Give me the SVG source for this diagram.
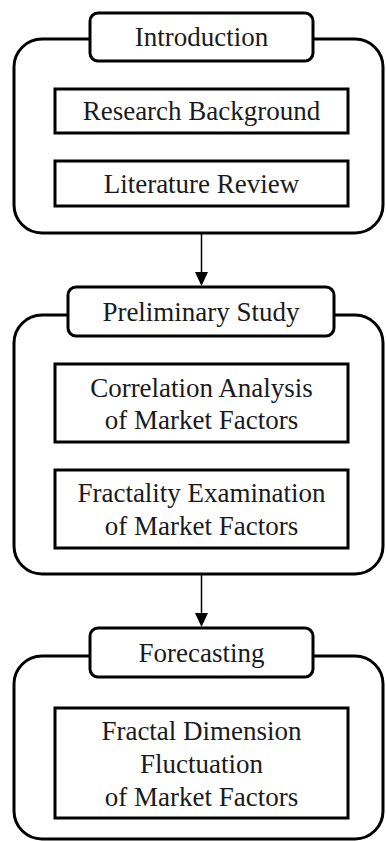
<svg xmlns="http://www.w3.org/2000/svg" width="386" height="841" viewBox="0 0 386 841">
  <defs>
    <style>
      .container { fill: none; stroke: #000; stroke-width: 3; }
      .tab { fill: #fff; stroke: #000; stroke-width: 3; }
      .box { fill: #fff; stroke: #000; stroke-width: 3; }
      .conn { stroke: #000; stroke-width: 1.5; fill: none; }
      .head { fill: #000; stroke: none; }
      text { font-family: "Liberation Serif", "Times New Roman", serif; font-size: 27px; fill: #1a1a1a; text-anchor: middle; }
    </style>
  </defs>
  <rect width="386" height="841" fill="#fff"/>

  <g id="introduction">
    <rect class="container" x="14" y="39" width="369" height="194" rx="28"/>
    <rect class="tab" x="90" y="13" width="223" height="48" rx="8"/>
    <text x="201.5" y="46">Introduction</text>
  </g>
  <g id="research-background">
    <rect class="box" x="55" y="89" width="293" height="44"/>
    <text x="201.5" y="120">Research Background</text>
  </g>
  <g id="literature-review">
    <rect class="box" x="55" y="161" width="293" height="45"/>
    <text x="201.5" y="193">Literature Review</text>
  </g>

  <g id="preliminary-study">
    <rect class="container" x="14" y="315" width="369" height="259" rx="28"/>
    <rect class="tab" x="68" y="287" width="266" height="49" rx="8"/>
    <text x="201" y="321">Preliminary Study</text>
  </g>
  <g id="correlation-analysis">
    <rect class="box" x="55" y="364" width="293" height="78"/>
    <text x="201.5" y="397">Correlation Analysis</text>
    <text x="201.5" y="429">of Market Factors</text>
  </g>
  <g id="fractality-examination">
    <rect class="box" x="55" y="470" width="293" height="78"/>
    <text x="201.5" y="502">Fractality Examination</text>
    <text x="201.5" y="535">of Market Factors</text>
  </g>

  <g id="forecasting">
    <rect class="container" x="14" y="656" width="369" height="183" rx="28"/>
    <rect class="tab" x="90" y="628" width="223" height="49" rx="8"/>
    <text x="201.5" y="662">Forecasting</text>
  </g>
  <g id="fractal-dimension-fluctuation">
    <rect class="box" x="55" y="708" width="293" height="110"/>
    <text x="201.5" y="740">Fractal Dimension</text>
    <text x="201.5" y="773">Fluctuation</text>
    <text x="201.5" y="806">of Market Factors</text>
  </g>

  <g id="connectors">
    <line class="conn" x1="201.5" y1="234" x2="201.5" y2="274"/>
    <polygon class="head" points="195,272 208,272 201.5,286"/>
    <line class="conn" x1="201.5" y1="575" x2="201.5" y2="615"/>
    <polygon class="head" points="195,613 208,613 201.5,627"/>
  </g>
</svg>
